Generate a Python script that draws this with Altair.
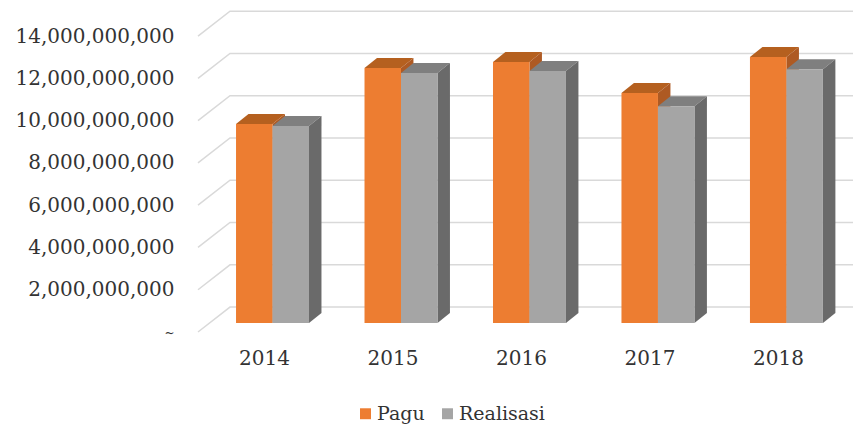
import altair as alt
import pandas as pd

years = [2014, 2015, 2016, 2017, 2018]
pagu = [9.41e9, 12.06e9, 12.35e9, 10.88e9, 12.58e9]
realisasi = [9.32e9, 11.83e9, 11.92e9, 10.26e9, 12.01e9]
series_names = ["Pagu", "Realisasi"]
tick_values = [0, 2e9, 4e9, 6e9, 8e9, 10e9, 12e9, 14e9]

# 3-D look, in data units
FLOOR = 0.426e9      # bars stand this far above the front edge of the floor
DEPTH_Y = 0.473e9    # rise of a bar's depth
DEPTH_X = 0.097      # run of a bar's depth, in years
WALL_Y = 1.18e9      # rise from front of the floor to the back wall
X_MIN, X_MAX = 2013.486, 2018.584
WALL_X = X_MIN + 0.249
BAR_EDGES = {"Pagu": (-0.218, 0.066), "Realisasi": (0.066, 0.35)}

front, top, side = [], [], []
for name, vals in zip(series_names, [pagu, realisasi]):
    lo, hi = BAR_EDGES[name]
    for yr, v in zip(years, vals):
        key = f"{name}-{yr}"
        front.append(dict(series=name, x=yr + lo, x2=yr + hi, y=v + FLOOR, y2=FLOOR))
        top.append(dict(series=name, key=key, y=v + FLOOR, x=yr + lo, x2=yr + hi))
        top.append(dict(series=name, key=key, y=v + FLOOR + DEPTH_Y,
                        x=yr + lo + DEPTH_X, x2=yr + hi + DEPTH_X))
        side.append(dict(series=name, key=key, x=yr + hi, y=v + FLOOR, y2=FLOOR))
        side.append(dict(series=name, key=key, x=yr + hi + DEPTH_X,
                         y=v + FLOOR + DEPTH_Y, y2=FLOOR + DEPTH_Y))
front, top, side = map(pd.DataFrame, (front, top, side))

grid = []
for t in tick_values:
    grid.append(dict(t=t, x=X_MIN, y=t, o=0))
    grid.append(dict(t=t, x=WALL_X, y=t + WALL_Y, o=1))
    grid.append(dict(t=t, x=X_MAX, y=t + WALL_Y, o=2))
grid = pd.DataFrame(grid)

xs = alt.Scale(domain=[X_MIN, X_MAX], nice=False, zero=False)
ys = alt.Scale(domain=[0, 15.33e9], nice=False, zero=False)
FONT = "DejaVu Serif"

x_axis = alt.Axis(
    values=years, format="d", domain=False, ticks=False, grid=False, title=None,
    labelPadding=16, labelFont=FONT, labelFontSize=20, labelColor="#333333",
    labelFlush=False, labelOverlap=False)
y_axis = alt.Axis(
    values=tick_values, domain=False, ticks=False, grid=False, title=None,
    labelExpr="datum.value == 0 ? '~' : format(datum.value, ',')",
    labelPadding=24, labelFont=FONT, labelColor="#333333",
    labelFontSize={"condition": {"test": "datum.value === 0", "value": 12}, "value": 20})

grid_layer = alt.Chart(grid).mark_line(color="#D9D9D9", strokeWidth=1.5).encode(
    x=alt.X("x:Q", scale=xs, axis=x_axis),
    y=alt.Y("y:Q", scale=ys, axis=y_axis),
    detail="t:N",
    order="o:O",
)


def top_layer(name, color):
    return alt.Chart(top[top.series == name]).mark_area(orient="horizontal", color=color).encode(
        x=alt.X("x:Q", scale=xs, axis=x_axis),
        x2="x2:Q",
        y=alt.Y("y:Q", scale=ys, axis=y_axis),
        detail="key:N",
    )


def side_layer(name, color):
    return alt.Chart(side[side.series == name]).mark_area(orient="vertical", color=color).encode(
        x=alt.X("x:Q", scale=xs, axis=x_axis),
        y=alt.Y("y:Q", scale=ys, axis=y_axis),
        y2="y2:Q",
        detail="key:N",
    )


front_layer = alt.Chart(front).mark_bar().encode(
    x=alt.X("x:Q", scale=xs, axis=x_axis),
    x2="x2:Q",
    y=alt.Y("y:Q", scale=ys, axis=y_axis),
    y2="y2:Q",
    color=alt.Color("series:N", scale=alt.Scale(domain=series_names, range=["#ED7D31", "#A5A5A5"]),
                    legend=alt.Legend(
                        title=None, orient="none", direction="horizontal",
                        legendX=158, legendY=396, symbolType="square", symbolSize=120,
                        symbolStrokeWidth=0, labelFont=FONT, labelFontSize=19,
                        labelColor="#333333", columnPadding=13, labelOffset=2)),
)

chart = alt.layer(
    grid_layer,
    top_layer("Pagu", "#B5601F"),
    side_layer("Pagu", "#AE5A23"),
    top_layer("Realisasi", "#7F7F7F"),
    side_layer("Realisasi", "#6A6A6A"),
    front_layer,
).properties(
    width=655, height=324,
    padding={"left": 190, "top": 0, "right": 0, "bottom": 92},
    autosize=alt.AutoSizeParams(type="none"),
).configure_view(stroke=None)

chart.save("out.html", embed_options={"renderer": "svg", "actions": False})
